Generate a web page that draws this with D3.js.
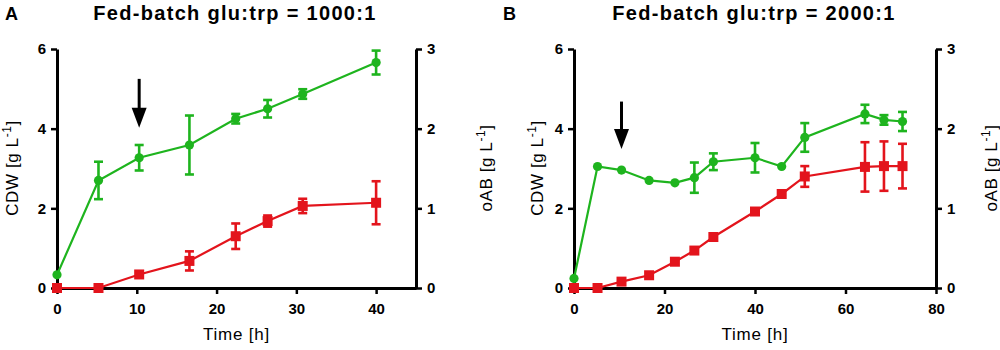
<!DOCTYPE html>
<html>
<head>
<meta charset="utf-8">
<script src="https://d3js.org/d3.v7.min.js"></script>
<style>
    body { margin: 0; background: #fff; }
    text { font-family: "Liberation Sans", Arial, sans-serif; }
</style>
</head>
<body>
<svg id="chart" width="1000" height="350"></svg>
<script>
// ---- data ----
// panel A: glu:trp = 1000:1
var timeA    = [0, 5.2, 10.3, 16.6, 22.4, 26.4, 30.8, 40]
var cdwA     = [0.33, 2.7, 3.27, 3.59, 4.25, 4.5, 4.87, 5.66]
var cdwErrA  = [0, 0.47, 0.32, 0.74, 0.12, 0.22, 0.12, 0.3]
var oabA     = [0, 0, 0.17, 0.34, 0.65, 0.84, 1.03, 1.07]
var oabErrA  = [0, 0, 0, 0.12, 0.16, 0.07, 0.09, 0.27]

// panel B: glu:trp = 2000:1
var timeB    = [0, 5.2, 10.5, 16.6, 22.3, 26.6, 30.8, 40, 45.9, 51, 64.3, 68.5, 72.6]
var cdwB     = [0.24, 3.05, 2.96, 2.70, 2.64, 2.77, 3.17, 3.27, 3.05, 3.78, 4.37, 4.22, 4.18]
var cdwErrB  = [0, 0, 0, 0, 0, 0.38, 0.21, 0.37, 0, 0.36, 0.23, 0.12, 0.24]
var oabB     = [0, 0, 0.08, 0.16, 0.33, 0.47, 0.64, 0.96, 1.18, 1.40, 1.52, 1.53, 1.53]
var oabErrB  = [0, 0, 0, 0, 0, 0, 0, 0, 0, 0.13, 0.31, 0.31, 0.28]

// ticks
var cdwTicks = [0, 2, 4, 6]
var oabTicks = [0, 1, 2, 3]
var timeTicksA = [0, 10, 20, 30, 40]
var timeTicksB = [0, 20, 40, 60, 80]

// feed start arrows [time, top, tip] in CDW units
var arrowA = [10.3, 5.25, 4.02]
var arrowB = [10.5, 4.68, 3.49]

var green = "#1eb41e"
var red = "#e3141c"

var svg = d3.select("#chart")

function yLabel(g, x, txt) {
    var t = g.append("text")
        .attr("transform", "translate(" + x + ",168) rotate(-90)")
        .attr("text-anchor", "middle")
        .attr("font-size", "17px")
        .attr("letter-spacing", "0.6px")
    t.append("tspan").text(txt + " [g L")
    t.append("tspan").attr("font-size", "12px").attr("dy", -7).text("-1")
    t.append("tspan").attr("dy", 7).text("]")
}

function drawPanel(p) {
    var g = svg.append("g")

    var x = d3.scaleLinear().domain([0, p.tMax]).range([p.left, p.right])
    var yL = d3.scaleLinear().domain([0, 6]).range([288, 49])
    var yR = d3.scaleLinear().domain([0, 3]).range([288, 49])
    var fmt = d3.format("d")

    // axes
    var xAxis = g.append("g").attr("transform", "translate(0,288)")
        .call(d3.axisBottom(x).tickValues(p.tTicks).tickFormat(fmt).tickSize(6).tickPadding(9).tickSizeOuter(0))
    var lAxis = g.append("g").attr("transform", "translate(" + p.left + ",0)")
        .call(d3.axisLeft(yL).tickValues(cdwTicks).tickFormat(fmt).tickSize(6).tickPadding(5).tickSizeOuter(0))
    var rAxis = g.append("g").attr("transform", "translate(" + p.right + ",0)")
        .call(d3.axisRight(yR).tickValues(oabTicks).tickFormat(fmt).tickSize(6).tickPadding(5).tickSizeOuter(0))

    ;[xAxis, lAxis, rAxis].forEach(function (a) {
        a.select(".domain").attr("stroke", "#000").attr("stroke-width", 3)
        a.selectAll(".tick line").attr("stroke", "#000").attr("stroke-width", 2.5)
        a.selectAll(".tick text")
            .attr("fill", "#000")
            .attr("font-size", "15px")
            .attr("font-weight", "bold")
            .attr("font-family", "Liberation Sans, Arial, sans-serif")
    })

    // axis titles
    g.append("text")
        .attr("x", (p.left + p.right) / 2)
        .attr("y", 340)
        .attr("text-anchor", "middle")
        .attr("font-size", "17px")
        .attr("letter-spacing", "0.8px")
        .text("Time [h]")

    yLabel(g, p.left - p.lOff, "CDW")
    yLabel(g, p.right + p.rOff, "oAB")

    // panel title + letter
    g.append("text")
        .attr("x", p.titleX)
        .attr("y", 20)
        .attr("text-anchor", "middle")
        .attr("font-size", "20px")
        .attr("font-weight", "bold")
        .attr("letter-spacing", "1.3px")
        .text(p.title)
    g.append("text")
        .attr("x", p.letterX)
        .attr("y", 20)
        .attr("font-size", "18px")
        .attr("font-weight", "bold")
        .text(p.letter)

    // arrow marking the feed switch
    var ax = x(p.arrow[0])
    var top = yL(p.arrow[1])
    var tip = yL(p.arrow[2])
    g.append("line")
        .attr("x1", ax).attr("x2", ax)
        .attr("y1", top).attr("y2", tip - 12)
        .attr("stroke", "#000").attr("stroke-width", 3)
    g.append("path")
        .attr("d", "M" + (ax - 7.5) + "," + (tip - 20) + "L" + (ax + 7.5) + "," + (tip - 20) + "L" + ax + "," + tip + "Z")
        .attr("fill", "#000")

    // series: CDW (left) then oAB (right)
    var series = [
        { v: p.cdw, e: p.cdwErr, y: yL, color: green, shape: "circle" },
        { v: p.oab, e: p.oabErr, y: yR, color: red, shape: "square" }
    ]
    series.forEach(function (s) {
        var pts = p.time.map(function (t, i) { return { t: t, v: s.v[i], e: s.e[i] } })

        g.append("path")
            .datum(pts)
            .attr("fill", "none")
            .attr("stroke", s.color)
            .attr("stroke-width", 2.2)
            .attr("d", d3.line().x(function (d) { return x(d.t) }).y(function (d) { return s.y(d.v) }))

        var eb = g.append("g").selectAll("g")
            .data(pts.filter(function (d) { return d.e > 0 }))
            .join("g")
            .attr("stroke", s.color)
            .attr("stroke-width", 2.6)
        eb.append("line")
            .attr("x1", function (d) { return x(d.t) })
            .attr("x2", function (d) { return x(d.t) })
            .attr("y1", function (d) { return s.y(d.v - d.e) })
            .attr("y2", function (d) { return s.y(d.v + d.e) })
        eb.append("line")
            .attr("x1", function (d) { return x(d.t) - 4.5 })
            .attr("x2", function (d) { return x(d.t) + 4.5 })
            .attr("y1", function (d) { return s.y(d.v + d.e) })
            .attr("y2", function (d) { return s.y(d.v + d.e) })
        eb.append("line")
            .attr("x1", function (d) { return x(d.t) - 4.5 })
            .attr("x2", function (d) { return x(d.t) + 4.5 })
            .attr("y1", function (d) { return s.y(d.v - d.e) })
            .attr("y2", function (d) { return s.y(d.v - d.e) })

        if (s.shape === "circle") {
            g.append("g").selectAll("circle")
                .data(pts)
                .join("circle")
                .attr("cx", function (d) { return x(d.t) })
                .attr("cy", function (d) { return s.y(d.v) })
                .attr("r", 4.6)
                .attr("fill", s.color)
        } else {
            g.append("g").selectAll("rect")
                .data(pts)
                .join("rect")
                .attr("x", function (d) { return x(d.t) - 5 })
                .attr("y", function (d) { return s.y(d.v) - 5 })
                .attr("width", 10)
                .attr("height", 10)
                .attr("fill", s.color)
        }
    })
}

drawPanel({
    left: 57, right: 416, tMax: 45, tTicks: timeTicksA,
    time: timeA, cdw: cdwA, cdwErr: cdwErrA, oab: oabA, oabErr: oabErrA,
    arrow: arrowA, title: "Fed-batch glu:trp = 1000:1", titleX: 235,
    letter: "A", letterX: 5, lOff: 39, rOff: 76
})
drawPanel({
    left: 574, right: 936, tMax: 80, tTicks: timeTicksB,
    time: timeB, cdw: cdwB, cdwErr: cdwErrB, oab: oabB, oabErr: oabErrB,
    arrow: arrowB, title: "Fed-batch glu:trp = 2000:1", titleX: 754,
    letter: "B", letterX: 503, lOff: 31, rOff: 61
})
</script>
</body>
</html>
